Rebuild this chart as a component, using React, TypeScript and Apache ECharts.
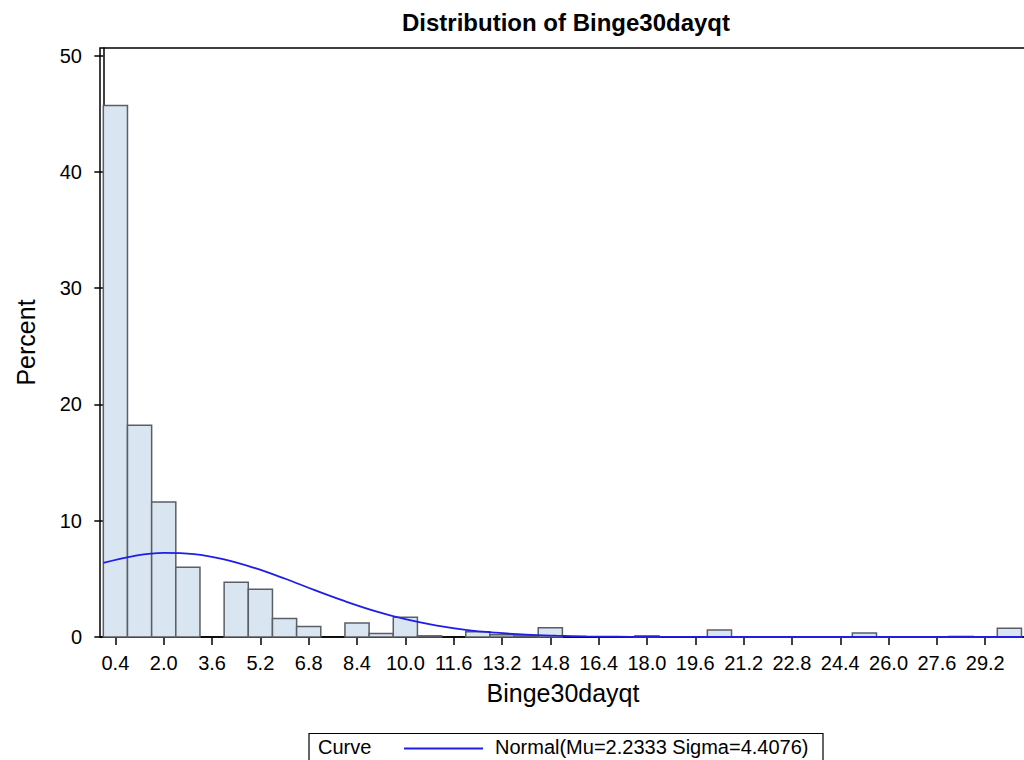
import React, { useEffect, useRef } from "react";
import * as echarts from "echarts";

const TITLE = "Distribution of Binge30dayqt";
const X_NAME = "Binge30dayqt";
const Y_NAME = "Percent";
const BIN_WIDTH = 0.8;
// Percent per bin (bins of width 0.8 starting at 0)
const PERCENT = [
  45.7, 18.2, 11.6, 6.0, 0, 4.7, 4.1, 1.6, 0.9, 0, 1.2, 0.3, 1.7, 0.1, 0, 0.45,
  0.2, 0.1, 0.8, 0, 0, 0, 0.1, 0, 0, 0.6, 0, 0, 0, 0, 0, 0.35, 0, 0, 0, 0.05, 0,
  0.75,
];
const X_TICK_LABELS = [
  "0.4", "2.0", "3.6", "5.2", "6.8", "8.4", "10.0", "11.6", "13.2", "14.8",
  "16.4", "18.0", "19.6", "21.2", "22.8", "24.4", "26.0", "27.6", "29.2",
];
const Y_TICKS = [0, 10, 20, 30, 40, 50];
// Normal curve
const CURVE_X = [0, 1, 2, 3, 4, 5, 6, 7, 8, 9, 10, 11, 12, 13, 14, 15, 16, 17, 18, 19, 20, 22, 30.4];
const CURVE_Y = [6.37, 6.96, 7.23, 7.13, 6.68, 5.94, 5.03, 4.03, 3.08, 2.23, 1.53, 1.0, 0.62, 0.37, 0.2, 0.11, 0.055, 0.025, 0.01, 0.004, 0.0015, 0, 0];
const LEGEND_TITLE = "Curve";
const LEGEND_TEXT = "Normal(Mu=2.2333 Sigma=4.4076)";

const FONT = "'Liberation Sans', Arial, Helvetica, sans-serif";

export default function App() {
  const ref = useRef<HTMLDivElement>(null);
  useEffect(() => {
    if (!ref.current) return;
    const chart = echarts.init(ref.current, null, { renderer: "svg" });
    const barData = PERCENT.map((p, i) => [i * BIN_WIDTH, (i + 1) * BIN_WIDTH, p]);
    const xTicks = X_TICK_LABELS.map((s) => parseFloat(s));
    const option: any = {
      animation: false,
      backgroundColor: "#fff",
      grid: {
        left: 100,
        top: 48,
        width: 926,
        height: 589,
        show: true,
        borderColor: "#000",
        borderWidth: 1.5,
        backgroundColor: "transparent",
      },
      xAxis: {
        type: "value",
        min: -0.11,
        max: 30.55,
        name: X_NAME,
        nameLocation: "middle",
        nameGap: 43,
        nameTextStyle: { color: "#000", fontSize: 25, fontFamily: FONT },
        axisLine: { show: true, onZero: false, lineStyle: { color: "#000", width: 1.5 } },
        axisTick: {
          show: true,
          customValues: xTicks,
          length: 8,
          lineStyle: { color: "#000", width: 1.5 },
        },
        axisLabel: {
          customValues: xTicks,
          formatter: (v: number) => v.toFixed(1),
          color: "#000",
          fontSize: 20,
          fontFamily: FONT,
          margin: 16,
        },
        splitLine: { show: false },
      },
      yAxis: {
        type: "value",
        min: 0,
        max: 50.65,
        name: Y_NAME,
        nameLocation: "middle",
        nameGap: 62,
        nameTextStyle: { color: "#000", fontSize: 25, fontFamily: FONT },
        axisLine: { show: true, lineStyle: { color: "#000", width: 1.5 } },
        axisTick: {
          show: true,
          customValues: Y_TICKS,
          length: 9,
          lineStyle: { color: "#000", width: 1.5 },
        },
        axisLabel: {
          customValues: Y_TICKS,
          color: "#000",
          fontSize: 20,
          fontFamily: FONT,
          margin: 18,
        },
        splitLine: { show: false },
      },
      graphic: [
        {
          type: "text",
          x: 566,
          y: 22,
          style: {
            text: TITLE,
            font: `bold 24px ${FONT}`,
            fill: "#000",
            textAlign: "center",
            textVerticalAlign: "middle",
          },
        },
        {
          type: "rect",
          shape: { x: 309, y: 733.5, width: 514, height: 40 },
          style: { fill: "#fff", stroke: "#000", lineWidth: 1.2 },
        },
        {
          type: "text",
          x: 318,
          y: 747,
          style: {
            text: LEGEND_TITLE,
            font: `20px ${FONT}`,
            fill: "#000",
            textAlign: "left",
            textVerticalAlign: "middle",
          },
        },
        {
          type: "line",
          shape: { x1: 404, y1: 748.5, x2: 483, y2: 748.5 },
          style: { stroke: "#1e1ee6", lineWidth: 1.8 },
        },
        {
          type: "text",
          x: 495,
          y: 747,
          style: {
            text: LEGEND_TEXT,
            font: `20px ${FONT}`,
            fill: "#000",
            textAlign: "left",
            textVerticalAlign: "middle",
          },
        },
      ],
      series: [
        {
          type: "custom",
          data: barData,
          encode: { x: [0, 1], y: 2 },
          renderItem: (params: any, api: any) => {
            const x0 = api.value(0);
            const x1 = api.value(1);
            const h = api.value(2);
            if (!(h > 0)) return { type: "group", children: [] };
            const p0 = api.coord([x0, h]);
            const p1 = api.coord([x1, 0]);
            return {
              type: "rect",
              shape: { x: p0[0], y: p0[1], width: p1[0] - p0[0], height: p1[1] - p0[1] },
              style: { fill: "#dae5f2", stroke: "#5a5f66", lineWidth: 1.5 },
            };
          },
          z: 2,
        },
        {
          type: "line",
          data: CURVE_X.map((x, i) => [x, CURVE_Y[i]]),
          smooth: 0.4,
          symbol: "none",
          lineStyle: { color: "#1e1ee6", width: 1.8 },
          z: 3,
        },
      ],
    };
    chart.setOption(option);
    return () => chart.dispose();
  }, []);
  return (
    <div
      style={{
        position: "fixed",
        left: 0,
        top: 0,
        width: 1024,
        height: 760,
        overflow: "hidden",
        background: "#fff",
      }}
    >
      <div ref={ref} style={{ width: 1040, height: 760 }} />
    </div>
  );
}
